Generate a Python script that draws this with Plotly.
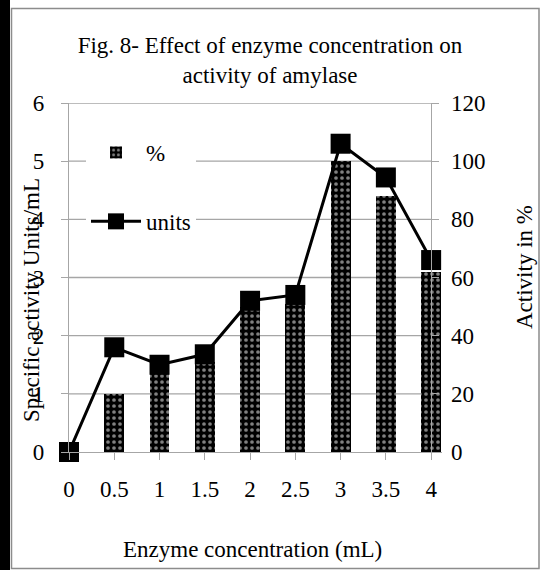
import plotly.graph_objects as go

# ---- data ----
conc = [0, 0.5, 1, 1.5, 2, 2.5, 3, 3.5, 4]
conc_labels = ["0", "0.5", "1", "1.5", "2", "2.5", "3", "3.5", "4"]
units = [0, 1.8, 1.5, 1.68, 2.6, 2.7, 5.3, 4.72, 3.3]
percent = [0, 20, 27, 31, 50, 51, 100, 88, 62]
units_ticks = [0, 1, 2, 3, 4, 5, 6]
percent_ticks = [0, 20, 40, 60, 80, 100, 120]

FONT = "Liberation Serif"
FS = 23
GRAY = "#a6a6a6"

# plot-area pixel frame
L, R, T, B = 69, 442, 103, 452
W, H = 540, 570
XMAX = 4.12


def px_x(p):
    return (p - L) / (R - L)


def px_y(p):
    return (B - p) / (B - T)


fig = go.Figure()

fig.add_trace(go.Bar(
    x=conc, y=percent, name="%", yaxis="y", width=0.22,
    marker=dict(color="black", line=dict(width=0),
                pattern=dict(shape=".", fgcolor="white", bgcolor="black",
                             size=6, solidity=0.3)),
    legendgroup="a",
))
fig.add_trace(go.Scatter(
    x=conc, y=units, name="units", yaxis="y2", mode="lines+markers",
    line=dict(color="black", width=3),
    marker=dict(symbol="square", size=20, color="black"),
    cliponaxis=False, legendgroup="b",
))

# gridlines only between the two value axes
shapes = []
for v in units_ticks[1:]:
    shapes.append(dict(type="line", xref="x", yref="y2", x0=0, x1=conc[-1],
                       y0=v, y1=v, line=dict(color=GRAY, width=1.3),
                       layer="below"))
# outer chart border and left dark strip
shapes.append(dict(type="rect", xref="paper", yref="paper",
                   x0=px_x(11.5), x1=px_x(539), y0=px_y(568.5), y1=px_y(8.5),
                   line=dict(color="#8c8c8c", width=1.5), layer="below"))
shapes.append(dict(type="rect", xref="paper", yref="paper",
                   x0=px_x(0), x1=px_x(10), y0=px_y(H), y1=px_y(0),
                   line=dict(width=0), fillcolor="black", layer="above"))

tfont = dict(family=FONT, size=FS, color="black")
annotations = [
    dict(text="Specific activity Units/mL", textangle=-90, xref="paper",
         yref="paper", x=px_x(31), y=px_y(300), xanchor="center",
         yanchor="middle", showarrow=False, font=tfont),
    dict(text="Activity in %", textangle=-90, xref="paper", yref="paper",
         x=px_x(524), y=px_y(267), xanchor="center", yanchor="middle",
         showarrow=False, font=tfont),
    dict(text="Enzyme concentration (mL)", xref="paper", yref="paper",
         x=px_x(252), y=px_y(549), xanchor="center", yanchor="middle",
         showarrow=False, font=tfont),
]

axis_common = dict(showline=True, linecolor=GRAY, linewidth=1.3,
                   ticks="outside", ticklen=7, tickcolor=GRAY, tickwidth=1.3,
                   showgrid=False, zeroline=False, tickfont=tfont)

fig.update_layout(
    width=W, height=H,
    margin=dict(l=L, r=W - R, t=T, b=H - B, pad=0),
    paper_bgcolor="white", plot_bgcolor="white",
    title=dict(text="Fig. 8- Effect of enzyme concentration on<br>activity of amylase",
               x=270 / W, xref="container", xanchor="center",
               y=1 - 53 / H, yref="container", yanchor="top",
               font=tfont),
    xaxis=dict(range=[0, XMAX], tickvals=conc, ticktext=conc_labels,
               ticklabelstandoff=9, **axis_common),
    yaxis=dict(range=[0, 120], tickvals=percent_ticks, side="right",
               anchor="free", position=conc[-1] / XMAX,
               ticklabelstandoff=7, **axis_common),
    yaxis2=dict(range=[0, 6], tickvals=units_ticks, side="left",
                overlaying="y", anchor="x", ticklabelstandoff=12,
                **axis_common),
    legend=dict(x=px_x(86), y=px_y(131), xanchor="left", yanchor="top",
                bgcolor="white", tracegroupgap=36, traceorder="grouped",
                itemwidth=50, font=tfont),
    showlegend=True,
    bargap=0,
    shapes=shapes,
    annotations=annotations,
)

fig.write_html("out.html")
